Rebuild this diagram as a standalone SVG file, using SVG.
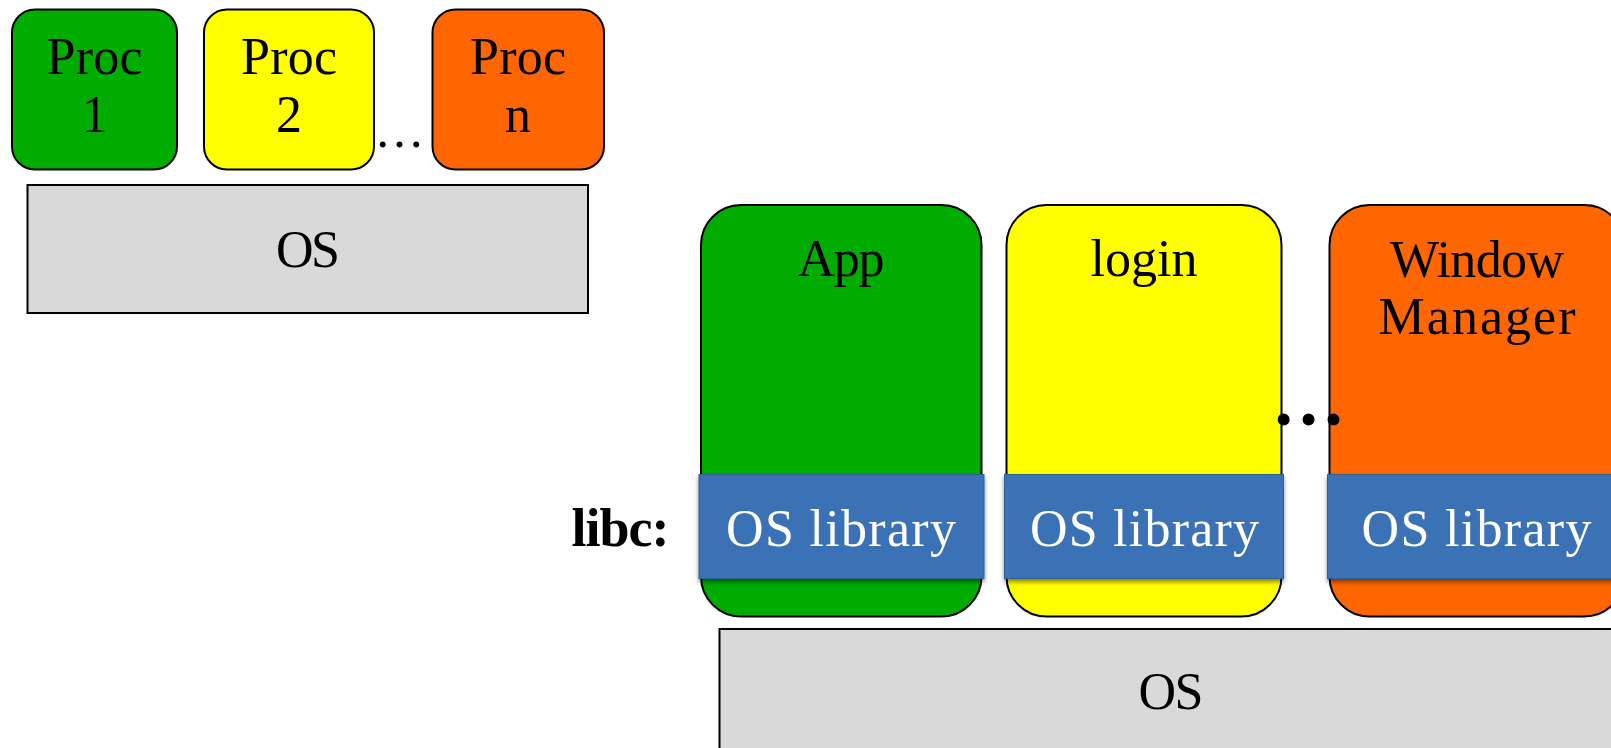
<svg xmlns="http://www.w3.org/2000/svg" width="1611" height="748" viewBox="0 0 1611 748">
<style>
.t{font-family:"Liberation Serif","Times New Roman",serif;font-size:52px;fill:#000;text-anchor:middle}
.w{fill:#fff}
.b{stroke:#000;stroke-width:2}
.os{fill:#d9d9d9;stroke:#000;stroke-width:2}
.band{fill:#3a72b5;stroke:#2f609c;stroke-width:1}
.g{fill:#00ac00}
.y{fill:#ffff00}
.o{fill:#ff6600}
</style>
<defs>
<filter id="sh" x="-5%" y="-10%" width="110%" height="130%">
<feDropShadow dx="0" dy="3" stdDeviation="2" flood-color="#000" flood-opacity="0.45"/>
</filter>
</defs>
<rect width="1611" height="748" fill="#fff"/>

<g id="proc1">
<rect class="b g" x="12" y="9.5" width="165" height="160" rx="23"/>
<text class="t" x="94.5" y="74" textLength="96">Proc</text>
<text class="t" x="94.5" y="131.5">1</text>
</g>
<g id="proc2">
<rect class="b y" x="204" y="9.5" width="170" height="160" rx="23"/>
<text class="t" x="289" y="74" textLength="96">Proc</text>
<text class="t" x="289" y="131.5">2</text>
</g>
<text id="dots-top" class="t" style="font-size:50px" x="399.5" y="147">…</text>
<g id="procn">
<rect class="b o" x="432.5" y="9.5" width="171.5" height="160" rx="23"/>
<text class="t" x="518" y="74" textLength="96">Proc</text>
<text class="t" x="518" y="131.5">n</text>
</g>
<g id="os-top">
<rect class="os" x="27.5" y="185" width="560.5" height="128"/>
<text class="t" x="308" y="267" textLength="64">OS</text>
</g>

<g id="app">
<rect class="b g" x="701" y="205" width="280.5" height="411.5" rx="40"/>
<rect class="band" x="699" y="474.5" width="285" height="104" filter="url(#sh)"/>
<text class="t" x="841" y="276" textLength="87">App</text>
<text class="t w" x="841" y="546" textLength="230">OS library</text>
</g>
<g id="login">
<rect class="b y" x="1006.5" y="205" width="275" height="411.5" rx="40"/>
<rect class="band" x="1004.5" y="474.5" width="279" height="104" filter="url(#sh)"/>
<text class="t" x="1144" y="276" textLength="107">login</text>
<text class="t w" x="1144.5" y="546" textLength="229">OS library</text>
</g>
<g id="window-manager">
<rect class="b o" x="1329.5" y="205" width="295" height="411.5" rx="40"/>
<rect class="band" x="1327.5" y="474.5" width="300" height="104" filter="url(#sh)"/>
<text class="t" x="1477" y="277" textLength="174">Window</text>
<text class="t" x="1477" y="334" textLength="197">Manager</text>
<text class="t w" x="1476.5" y="546" textLength="230">OS library</text>
</g>
<text id="dots-mid" class="t" style="font-size:74px;font-weight:bold" x="1308.5" y="425">…</text>
<text id="libc" class="t" style="font-weight:bold;text-anchor:start;font-size:54px" x="571.5" y="546" textLength="98">libc:</text>
<g id="os-bottom">
<rect class="os" x="719.5" y="629" width="905" height="130"/>
<text class="t" x="1171" y="708.5" textLength="65">OS</text>
</g>
</svg>
